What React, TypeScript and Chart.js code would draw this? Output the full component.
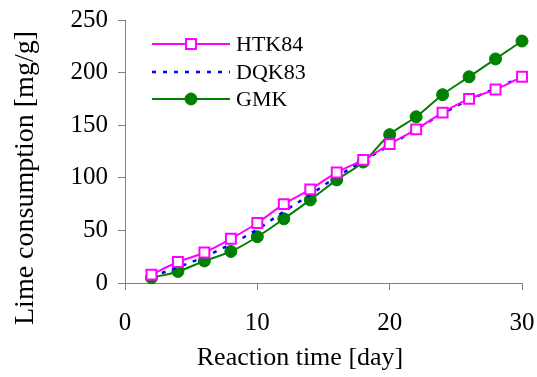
import React, { useEffect, useRef } from "react";
import { Chart, registerables } from "chart.js";

Chart.register(...registerables);

// ---- data ----
const days = [2, 4, 6, 8, 10, 12, 14, 16, 18, 20, 22, 24, 26, 28, 30];
const htk84 = [8, 20, 29, 42, 57, 75, 89, 105, 117, 132, 146, 162, 175, 184, 196];
const dqk83 = [6, 15, 25, 37, 51, 68, 84, 101, 116, 131, 146, 161, 174, 185, 196];
const gmk = [5, 11, 21, 30, 44, 61, 79, 98, 115, 141, 158, 179, 196, 213, 230];
const seriesNames = ["HTK84", "DQK83", "GMK"];
const xTicks = [0, 10, 20, 30];
const yTicks = [0, 50, 100, 150, 200, 250];
const xTitle = "Reaction time [day]";
const yTitle = "Lime consumption [mg/g]";

const FONT = "'Liberation Serif', 'Times New Roman', serif";

const toPoints = (ys: number[]) => days.map((d, i) => ({ x: d, y: ys[i] }));

const legendPlugin = {
  id: "insideLegend",
  afterDraw(chart: any) {
    const ctx = chart.ctx;
    const ca = chart.chartArea;
    const x0 = ca.left + 27;
    const x1 = ca.left + 105;
    const xm = (x0 + x1) / 2;
    const tx = ca.left + 111;
    const rows = [ca.top + 24, ca.top + 52, ca.top + 79];
    chart.data.datasets.forEach((ds: any, i: number) => {
      const y = rows[i];
      ctx.save();
      ctx.strokeStyle = ds.borderColor;
      ctx.lineWidth = ds.borderWidth;
      ctx.setLineDash(ds.borderDash || []);
      ctx.beginPath();
      ctx.moveTo(x0, y);
      ctx.lineTo(x1, y);
      ctx.stroke();
      ctx.setLineDash([]);
      if (ds.pointRadius > 0) {
        ctx.lineWidth = ds.pointBorderWidth;
        ctx.strokeStyle = ds.pointBorderColor;
        ctx.fillStyle = ds.pointBackgroundColor;
        if (ds.pointStyle === "rect") {
          const s = Math.SQRT1_2 * ds.pointRadius;
          ctx.beginPath();
          ctx.rect(xm - s, y - s, 2 * s, 2 * s);
          ctx.fill();
          ctx.stroke();
        } else {
          ctx.beginPath();
          ctx.arc(xm, y, ds.pointRadius, 0, Math.PI * 2);
          ctx.fill();
          ctx.stroke();
        }
      }
      ctx.fillStyle = "#000";
      ctx.font = `22px ${FONT}`;
      ctx.textAlign = "left";
      ctx.textBaseline = "middle";
      ctx.fillText(ds.label, tx, y + 1);
      ctx.restore();
    });
  },
};

const titlePlugin = {
  id: "axisTitles",
  afterDraw(chart: any) {
    const ctx = chart.ctx;
    ctx.save();
    ctx.fillStyle = "#000";
    ctx.textAlign = "center";
    ctx.textBaseline = "middle";
    ctx.font = `26px ${FONT}`;
    ctx.fillText(xTitle, 300, 358);
    ctx.translate(26, 178);
    ctx.rotate(-Math.PI / 2);
    ctx.font = `28px ${FONT}`;
    ctx.fillText(yTitle, 0, 0);
    ctx.restore();
  },
};

export default function App() {
  const ref = useRef<HTMLCanvasElement | null>(null);

  useEffect(() => {
    if (!ref.current) return;
    const chart = new Chart(ref.current, {
      type: "line",
      data: {
        datasets: [
          {
            label: seriesNames[0],
            data: toPoints(htk84),
            borderColor: "#FF00FF",
            borderWidth: 2,
            pointStyle: "rect",
            pointRadius: 7,
            pointBorderWidth: 2,
            pointBorderColor: "#FF00FF",
            pointBackgroundColor: "#FFFFFF",
            tension: 0.4,
            clip: false,
          },
          {
            label: seriesNames[1],
            data: toPoints(dqk83),
            borderColor: "#0000FF",
            borderWidth: 2.5,
            borderDash: [4, 7],
            pointRadius: 0,
            pointBorderWidth: 0,
            tension: 0.4,
            clip: false,
          },
          {
            label: seriesNames[2],
            data: toPoints(gmk),
            borderColor: "#008000",
            borderWidth: 2,
            pointStyle: "circle",
            pointRadius: 6,
            pointBorderWidth: 1,
            pointBorderColor: "#008000",
            pointBackgroundColor: "#008000",
            tension: 0.4,
            clip: false,
          },
        ] as any,
      },
      options: {
        animation: false,
        responsive: false,
        events: [],
        layout: { padding: 0 },
        plugins: {
          legend: { display: false },
          tooltip: { enabled: false },
          title: { display: false },
        },
        scales: {
          x: {
            type: "linear",
            min: xTicks[0],
            max: xTicks[xTicks.length - 1],
            afterBuildTicks: (scale: any) => {
              scale.ticks = xTicks.map((v) => ({ value: v }));
            },
            afterFit: (scale: any) => {
              scale.height = 94;
              scale.paddingLeft = 0;
              scale.paddingRight = 15;
            },
            ticks: {
              color: "#000",
              font: { family: FONT, size: 25 },
              padding: 18,
              maxRotation: 0,
              autoSkip: false,
            },
            grid: {
              display: true,
              drawOnChartArea: false,
              drawTicks: true,
              tickLength: 7,
              color: "#808080",
            },
            border: { display: true, color: "#808080", width: 1 },
          },
          y: {
            type: "linear",
            min: yTicks[0],
            max: yTicks[yTicks.length - 1],
            afterBuildTicks: (scale: any) => {
              scale.ticks = yTicks.map((v) => ({ value: v }));
            },
            afterFit: (scale: any) => {
              scale.width = 125;
              scale.paddingTop = 20;
              scale.paddingBottom = 0;
            },
            ticks: {
              color: "#000",
              font: { family: FONT, size: 25 },
              padding: 10,
              autoSkip: false,
            },
            grid: {
              display: true,
              drawOnChartArea: false,
              drawTicks: true,
              tickLength: 7,
              color: "#808080",
            },
            border: { display: true, color: "#808080", width: 1 },
          },
        },
      } as any,
      plugins: [legendPlugin, titlePlugin],
    });
    return () => chart.destroy();
  }, []);

  return (
    <div style={{ position: "absolute", left: 0, top: 0, width: 537, height: 377, background: "#fff" }}>
      <canvas ref={ref} width={537} height={377} style={{ display: "block" }} />
    </div>
  );
}
